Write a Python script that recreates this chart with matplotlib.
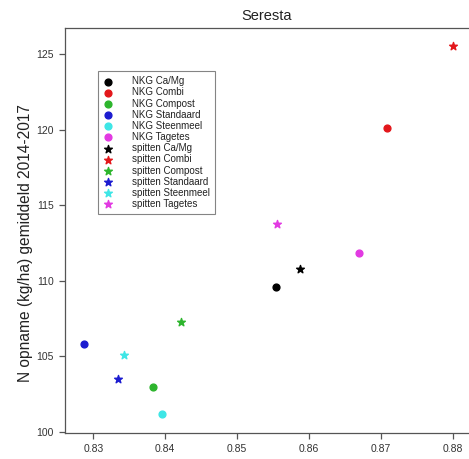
import matplotlib
matplotlib.use("Agg")
import matplotlib.pyplot as plt

# Behandelingen en kleuren
behandelingen = ["Ca/Mg", "Combi", "Compost", "Standaard", "Steenmeel", "Tagetes"]
kleuren = ["#000000", "#e3171b", "#2db52d", "#1c1cd0", "#3ee6e6", "#e23ae2"]

# NKG (bolletjes)
nkg_x = [0.8554, 0.8709, 0.8383, 0.8287, 0.8396, 0.8669]
nkg_y = [109.56, 120.09, 102.98, 105.79, 101.15, 111.81]

# spitten (sterren)
spit_x = [0.8588, 0.8800, 0.8422, 0.8335, 0.8343, 0.8556]
spit_y = [110.77, 125.52, 107.25, 103.49, 105.08, 113.74]

plt.rcParams["font.family"] = ["Liberation Sans", "DejaVu Sans"]

fig = plt.figure(figsize=(4.69, 4.59), dpi=100)
ax = fig.add_axes([0.1386, 0.0566, 0.8614, 0.8824])

for naam, kleur, x, y in zip(behandelingen, kleuren, nkg_x, nkg_y):
    ax.scatter(x, y, s=24, marker="o", color=kleur, label="NKG " + naam)
for naam, kleur, x, y in zip(behandelingen, kleuren, spit_x, spit_y):
    ax.scatter(x, y, s=34, marker="*", color=kleur, label="spitten " + naam)

ax.set_xlim(0.82606, 0.88227)
ax.set_ylim(99.91, 126.74)
ax.set_xticks([0.83, 0.84, 0.85, 0.86, 0.87, 0.88])
ax.set_xticklabels(["0.83", "0.84", "0.85", "0.86", "0.87", "0.88"])
ax.set_yticks([100, 105, 110, 115, 120, 125])

ax.spines["right"].set_visible(False)
for s in ["left", "bottom", "top"]:
    ax.spines[s].set_color("#555555")
    ax.spines[s].set_linewidth(0.9)
ax.tick_params(direction="out", length=4, width=0.9, color="#555555",
               labelsize=7.5, labelcolor="#333333", pad=4)

ax.set_title("Seresta", fontsize=10.5, color="#222222", pad=6)
ax.set_ylabel("N opname (kg/ha) gemiddeld 2014-2017", fontsize=11.2,
              color="#222222")
ax.yaxis.set_label_coords(-0.08, 0.47)

leg = ax.legend(loc="upper left", bbox_to_anchor=(0.07, 0.905), fontsize=7,
                frameon=True, fancybox=False, edgecolor="#666666",
                handletextpad=2.0, labelspacing=0.12, borderpad=0.5,
                handlelength=1.0, scatterpoints=1)
leg.get_frame().set_linewidth(0.8)
for t in leg.get_texts():
    t.set_color("#222222")

fig.savefig("out.png", dpi=100)
